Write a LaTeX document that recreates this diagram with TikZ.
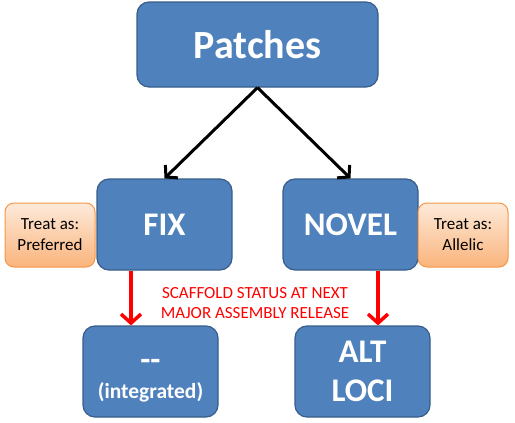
\documentclass[tikz,border=0pt]{standalone}
\usepackage{fontspec}
\setmainfont{Carlito}
\usetikzlibrary{arrows.meta}

\definecolor{boxblue}{HTML}{4F81BD}
\definecolor{boxline}{HTML}{385D8A}
\definecolor{noteline}{HTML}{F79646}
\definecolor{notetop}{HTML}{FDEADA}
\definecolor{notebot}{HTML}{FAB47C}

\begin{document}
\begin{tikzpicture}[x=1pt, y=-1pt,
  box/.style={draw=boxline, fill=boxblue, rounded corners=12pt, line width=1.2pt,
    text=white, align=center, inner sep=0pt, minimum width=135pt, minimum height=91pt,
    font=\bfseries\fontsize{33}{39}\selectfont},
  note/.style={draw=noteline, top color=notetop, bottom color=notebot, rounded corners=9pt,
    line width=1pt, align=center, inner sep=0pt, minimum width=90pt, minimum height=64pt,
    font=\fontsize{17}{21}\selectfont},
  link/.style={-{Straight Barb[length=8pt,width=18pt]}, line width=3pt},
  status/.style={-{Straight Barb[length=9pt,width=20pt]}, line width=3.5pt, red}]
  \useasboundingbox (0, 0) rectangle (515, 423);

  \node[box, minimum width=241pt, minimum height=85pt, font=\bfseries\fontsize{40}{48}\selectfont]
    (patches) at (257.5, 44.5) {Patches};

  \node[box] (fix) at (164.5, 224.5) {FIX};
  \node[box] (novel) at (350.5, 224.5) {NOVEL};
  \node[note] (preferred) at (50, 235) {Treat as:\\Preferred};
  \node[note] (allelic) at (463, 235) {Treat as:\\Allelic};

  \node[box] (integ) at (150.5, 371.5)
    {\rule{0pt}{30pt}-{}-\\[-11pt]\fontsize{21.5}{26}\selectfont (integrated)};
  \node[box] (alt) at (362.5, 371.5) {ALT\\LOCI};

  \draw[link] (patches.south) -- (fix.north);
  \draw[link] (patches.south) -- (novel.north);

  \draw[status] ([xshift=-33.5pt]fix.south) -- ([xshift=-33.5pt]fix.south |- integ.north);
  \draw[status] ([xshift=27.5pt]novel.south) -- ([xshift=27.5pt]novel.south |- alt.north);
  \node[red, align=center, font=\fontsize{17}{20}\selectfont] (release) at (255, 303)
    {SCAFFOLD STATUS AT NEXT\\MAJOR ASSEMBLY RELEASE};
\end{tikzpicture}
\end{document}
